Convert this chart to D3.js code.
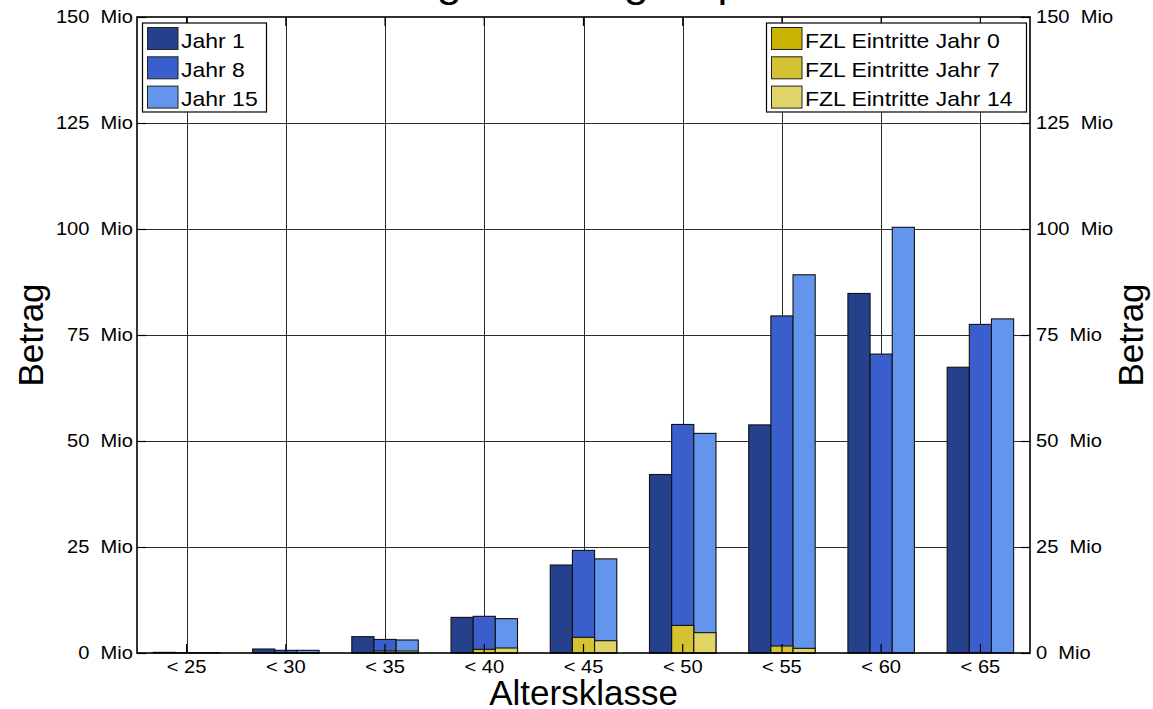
<!DOCTYPE html>
<html>
<head>
<meta charset="utf-8">
<script src="https://cdn.jsdelivr.net/npm/d3@7"></script>
<style>
  body { margin: 0; background: #fff; }
  svg text { font-family: "Liberation Sans", Arial, sans-serif; fill: #000; }
</style>
</head>
<body>
<div id="viz"></div>
<script>
// data (Mio)
const categories = ["< 25", "< 30", "< 35", "< 40", "< 45", "< 50", "< 55", "< 60", "< 65"];
const seriesNames = ["Jahr 1", "Jahr 8", "Jahr 15"];
const fzlNames = ["FZL Eintritte Jahr 0", "FZL Eintritte Jahr 7", "FZL Eintritte Jahr 14"];

const jahr1  = [0.15, 0.94, 3.85, 8.4, 20.75, 42.1, 53.8, 84.8, 67.4];
const jahr8  = [0.05, 0.63, 3.2, 8.65, 24.2, 53.9, 79.5, 70.5, 77.5];
const jahr15 = [0.05, 0.63, 3.07, 8.1, 22.2, 51.8, 89.2, 100.4, 78.8];

const fzl0  = [0, 0, 0, 0, 0, 0, 0, 0, 0];
const fzl7  = [0, 0.1, 0.47, 0.87, 3.7, 6.5, 1.65, 0, 0];
const fzl14 = [0, 0.1, 0.47, 1.18, 2.9, 4.8, 1.1, 0, 0];

const yTicks = [0, 25, 50, 75, 100, 125, 150];

const blues = ["#26418c", "#3a5fcd", "#6495ed"];
const yellows = ["#c8b400", "#d4c230", "#e0d468"];

const W = 1153, H = 709;
const pLeft = 137, pRight = 1030, pTop = 17, pBottom = 653;
const SX = 1.15; // small texts are a bit wide in the original

const svg = d3.select('#viz')
  .append('svg')
  .attr('width', W)
  .attr('height', H);

const x = d3.scaleBand()
  .domain(categories)
  .range([pLeft, pRight])
  .paddingInner(0.33)
  .paddingOuter(0.165);

const xs = d3.scaleBand()
  .domain(seriesNames)
  .range([0, x.bandwidth()]);

const y = d3.scaleLinear()
  .domain([0, 150])
  .range([pBottom, pTop]);

const cx = d => x(d) + x.bandwidth() / 2;

// grid
svg.append('g')
  .selectAll('line')
  .data(yTicks.slice(1, -1))
  .enter()
  .append('line')
  .attr('x1', pLeft).attr('x2', pRight)
  .attr('y1', d => Math.round(y(d)) + 0.5)
  .attr('y2', d => Math.round(y(d)) + 0.5)
  .attr('stroke', '#2a2a2a')
  .attr('stroke-width', 1);

svg.append('g')
  .selectAll('line')
  .data(categories)
  .enter()
  .append('line')
  .attr('x1', d => Math.round(cx(d)) + 0.5)
  .attr('x2', d => Math.round(cx(d)) + 0.5)
  .attr('y1', pTop).attr('y2', pBottom)
  .attr('stroke', '#2a2a2a')
  .attr('stroke-width', 1);

// bars
const series = [jahr1, jahr8, jahr15];
const fzl = [fzl0, fzl7, fzl14];

series.forEach((vals, s) => {
  svg.append('g')
    .selectAll('rect')
    .data(vals)
    .enter()
    .append('rect')
    .attr('x', (d, i) => x(categories[i]) + xs(seriesNames[s]))
    .attr('width', xs.bandwidth())
    .attr('y', d => y(d))
    .attr('height', d => y(0) - y(d))
    .attr('fill', blues[s])
    .attr('stroke', '#111')
    .attr('stroke-width', 1.1);
});

fzl.forEach((vals, s) => {
  svg.append('g')
    .selectAll('rect')
    .data(vals)
    .enter()
    .append('rect')
    .attr('x', (d, i) => x(categories[i]) + xs(seriesNames[s]))
    .attr('width', xs.bandwidth())
    .attr('y', d => y(d))
    .attr('height', d => y(0) - y(d))
    .attr('fill', yellows[s])
    .attr('stroke', '#111')
    .attr('stroke-width', d => d > 0 ? 1.1 : 0);
});

// axes
const fmt = d => d + "  Mio";

const gl = svg.append('g')
  .attr('transform', `translate(${pLeft},0)`)
  .call(d3.axisLeft(y).tickValues(yTicks).tickSize(-9).tickPadding(4).tickFormat(fmt));
const gr = svg.append('g')
  .attr('transform', `translate(${pRight},0)`)
  .call(d3.axisRight(y).tickValues(yTicks).tickSize(-9).tickPadding(6).tickFormat(fmt));
const gb = svg.append('g')
  .attr('transform', `translate(0,${pBottom})`)
  .call(d3.axisBottom(x).tickSize(-9).tickPadding(8).tickSizeOuter(0));
const gt = svg.append('g')
  .attr('transform', `translate(0,${pTop})`)
  .call(d3.axisTop(x).tickSize(-9).tickFormat('').tickSizeOuter(0));

[gl, gr, gb, gt].forEach(g => {
  g.select('.domain').remove();
  g.selectAll('.tick line').attr('stroke', '#000').attr('stroke-width', 1.2);
  g.selectAll('text')
    .attr('font-size', 17.5)
    .attr('font-family', '"Liberation Sans", Arial, sans-serif')
    .attr('fill', '#000')
    .style('white-space', 'pre');
});
gl.selectAll('text').attr('x', -4 / SX).attr('transform', `scale(${SX},1)`);
gr.selectAll('text').attr('x', 6 / SX).attr('transform', `scale(${SX},1)`);
gb.selectAll('text').attr('transform', `scale(${SX},1)`);

// box
svg.append('rect')
  .attr('x', pLeft).attr('y', pTop)
  .attr('width', pRight - pLeft).attr('height', pBottom - pTop)
  .attr('fill', 'none')
  .attr('stroke', '#000')
  .attr('stroke-width', 1.6);

// texts
function label(txt, tx, ty, size, sx, rot) {
  const r = rot ? ` rotate(${rot})` : '';
  return svg.append('text')
    .attr('transform', `translate(${tx},${ty}) scale(${sx},1)${r}`)
    .attr('text-anchor', 'middle')
    .attr('font-size', size)
    .text(txt);
}

label("Entwicklung Deckungskapital", 512, -3, 38.5, SX);
label("Altersklasse", (pLeft + pRight) / 2, 705, 35, 1);
label("Betrag", 43, 335, 35, 1, -90);
label("Betrag", 1143, 335, 35, 1, -90);

// legends
function legend(names, colors, bx, by, bw, bh) {
  const g = svg.append('g');
  g.append('rect')
    .attr('x', bx).attr('y', by)
    .attr('width', bw).attr('height', bh)
    .attr('fill', '#fff')
    .attr('stroke', '#000')
    .attr('stroke-width', 1.2);
  const rows = g.selectAll('g.row')
    .data(names)
    .enter()
    .append('g')
    .classed('row', true)
    .attr('transform', (d, i) => `translate(${bx + 5},${by + 4.5 + i * 29.3})`);
  rows.append('rect')
    .attr('width', 30.5).attr('height', 22)
    .attr('fill', (d, i) => colors[i])
    .attr('stroke', '#222')
    .attr('stroke-width', 1);
  rows.append('text')
    .attr('transform', `translate(33.5,20.3) scale(${SX},1)`)
    .attr('font-size', 20)
    .text(d => d);
}

legend(seriesNames, blues, 142.5, 23, 124, 89);
legend(fzlNames, yellows, 766.5, 23, 260, 89);
</script>
</body>
</html>
